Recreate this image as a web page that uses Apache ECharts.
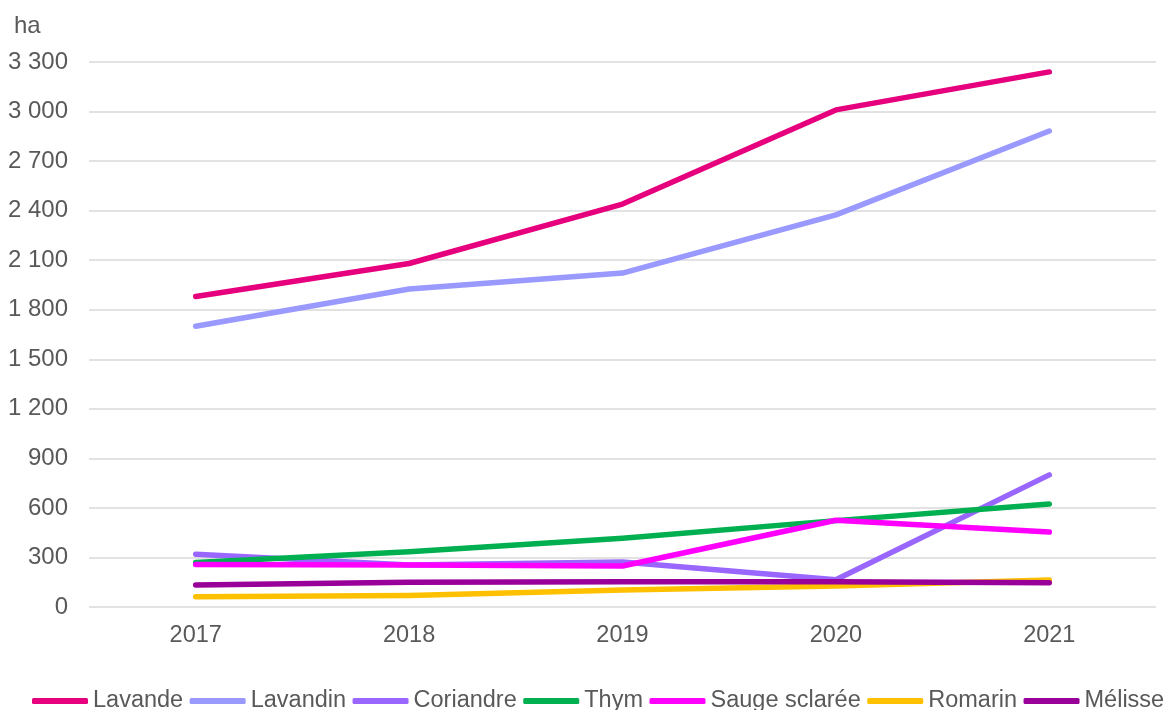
<!DOCTYPE html>
<html><head><meta charset="utf-8">
<script src="https://cdn.jsdelivr.net/npm/echarts@6/dist/echarts.min.js"></script>
<style>html,body{margin:0;padding:0;background:#fff}#c{width:1166px;height:710px}</style>
</head><body><div id="c"></div>
<script>
const years = ['2017','2018','2019','2020','2021'];
const lavande   = [1880, 2080, 2440, 3010, 3240];
const lavandin  = [1700, 1925, 2022, 2374, 2882];
const coriandre = [320, 254, 272, 165, 800];
const thym      = [270, 335, 416, 523, 624];
const sauge     = [258, 255, 248, 525, 454];
const romarin   = [62, 69, 103, 127, 163];
const melisse   = [133, 150, 153, 153, 147];
const names  = ['Lavande','Lavandin','Coriandre','Thym','Sauge sclarée','Romarin','Mélisse'];
const colors = ['#E6007E','#9999FF','#9966FF','#00B050','#FF00FF','#FFC000','#990099'];
const values = [lavande, lavandin, coriandre, thym, sauge, romarin, melisse];

const font = 'Liberation Sans, Arial, sans-serif';
const chart = echarts.init(document.getElementById('c'), null, {renderer:'canvas'});
chart.setOption({
  animation:false,
  title:{text:'ha', left:9, top:9, textStyle:{fontFamily:font, fontSize:24, fontWeight:'normal', color:'#595959'}},
  grid:{left:89, right:10, top:62, bottom:103, containLabel:false},
  legend:{left:32, top:689, width:1200, padding:0, itemWidth:56, itemHeight:6, itemGap:6.5, icon:'roundRect',
    textStyle:{fontFamily:font, fontSize:23.5, color:'#595959'},
    data:names},
  xAxis:{type:'category', data:years, boundaryGap:true,
    axisLine:{show:false}, axisTick:{show:false},
    axisLabel:{fontFamily:font, fontSize:23.5, color:'#595959', margin:17}},
  yAxis:{type:'value', min:0, max:3300, interval:300,
    axisLine:{show:false}, axisTick:{show:false},
    splitLine:{lineStyle:{color:'#d9d9d9', width:1.5}},
    axisLabel:{fontFamily:font, fontSize:24, color:'#595959', margin:21,
      formatter:v=>String(v).replace(/\B(?=(\d{3})+(?!\d))/g,' ')}},
  series: names.map((n,i)=>({name:n, type:'line', data:values[i], symbol:'none',
    color:colors[i], lineStyle:{width:5.5, color:colors[i], cap:'round', join:'round'}}))
});
</script></body></html>
